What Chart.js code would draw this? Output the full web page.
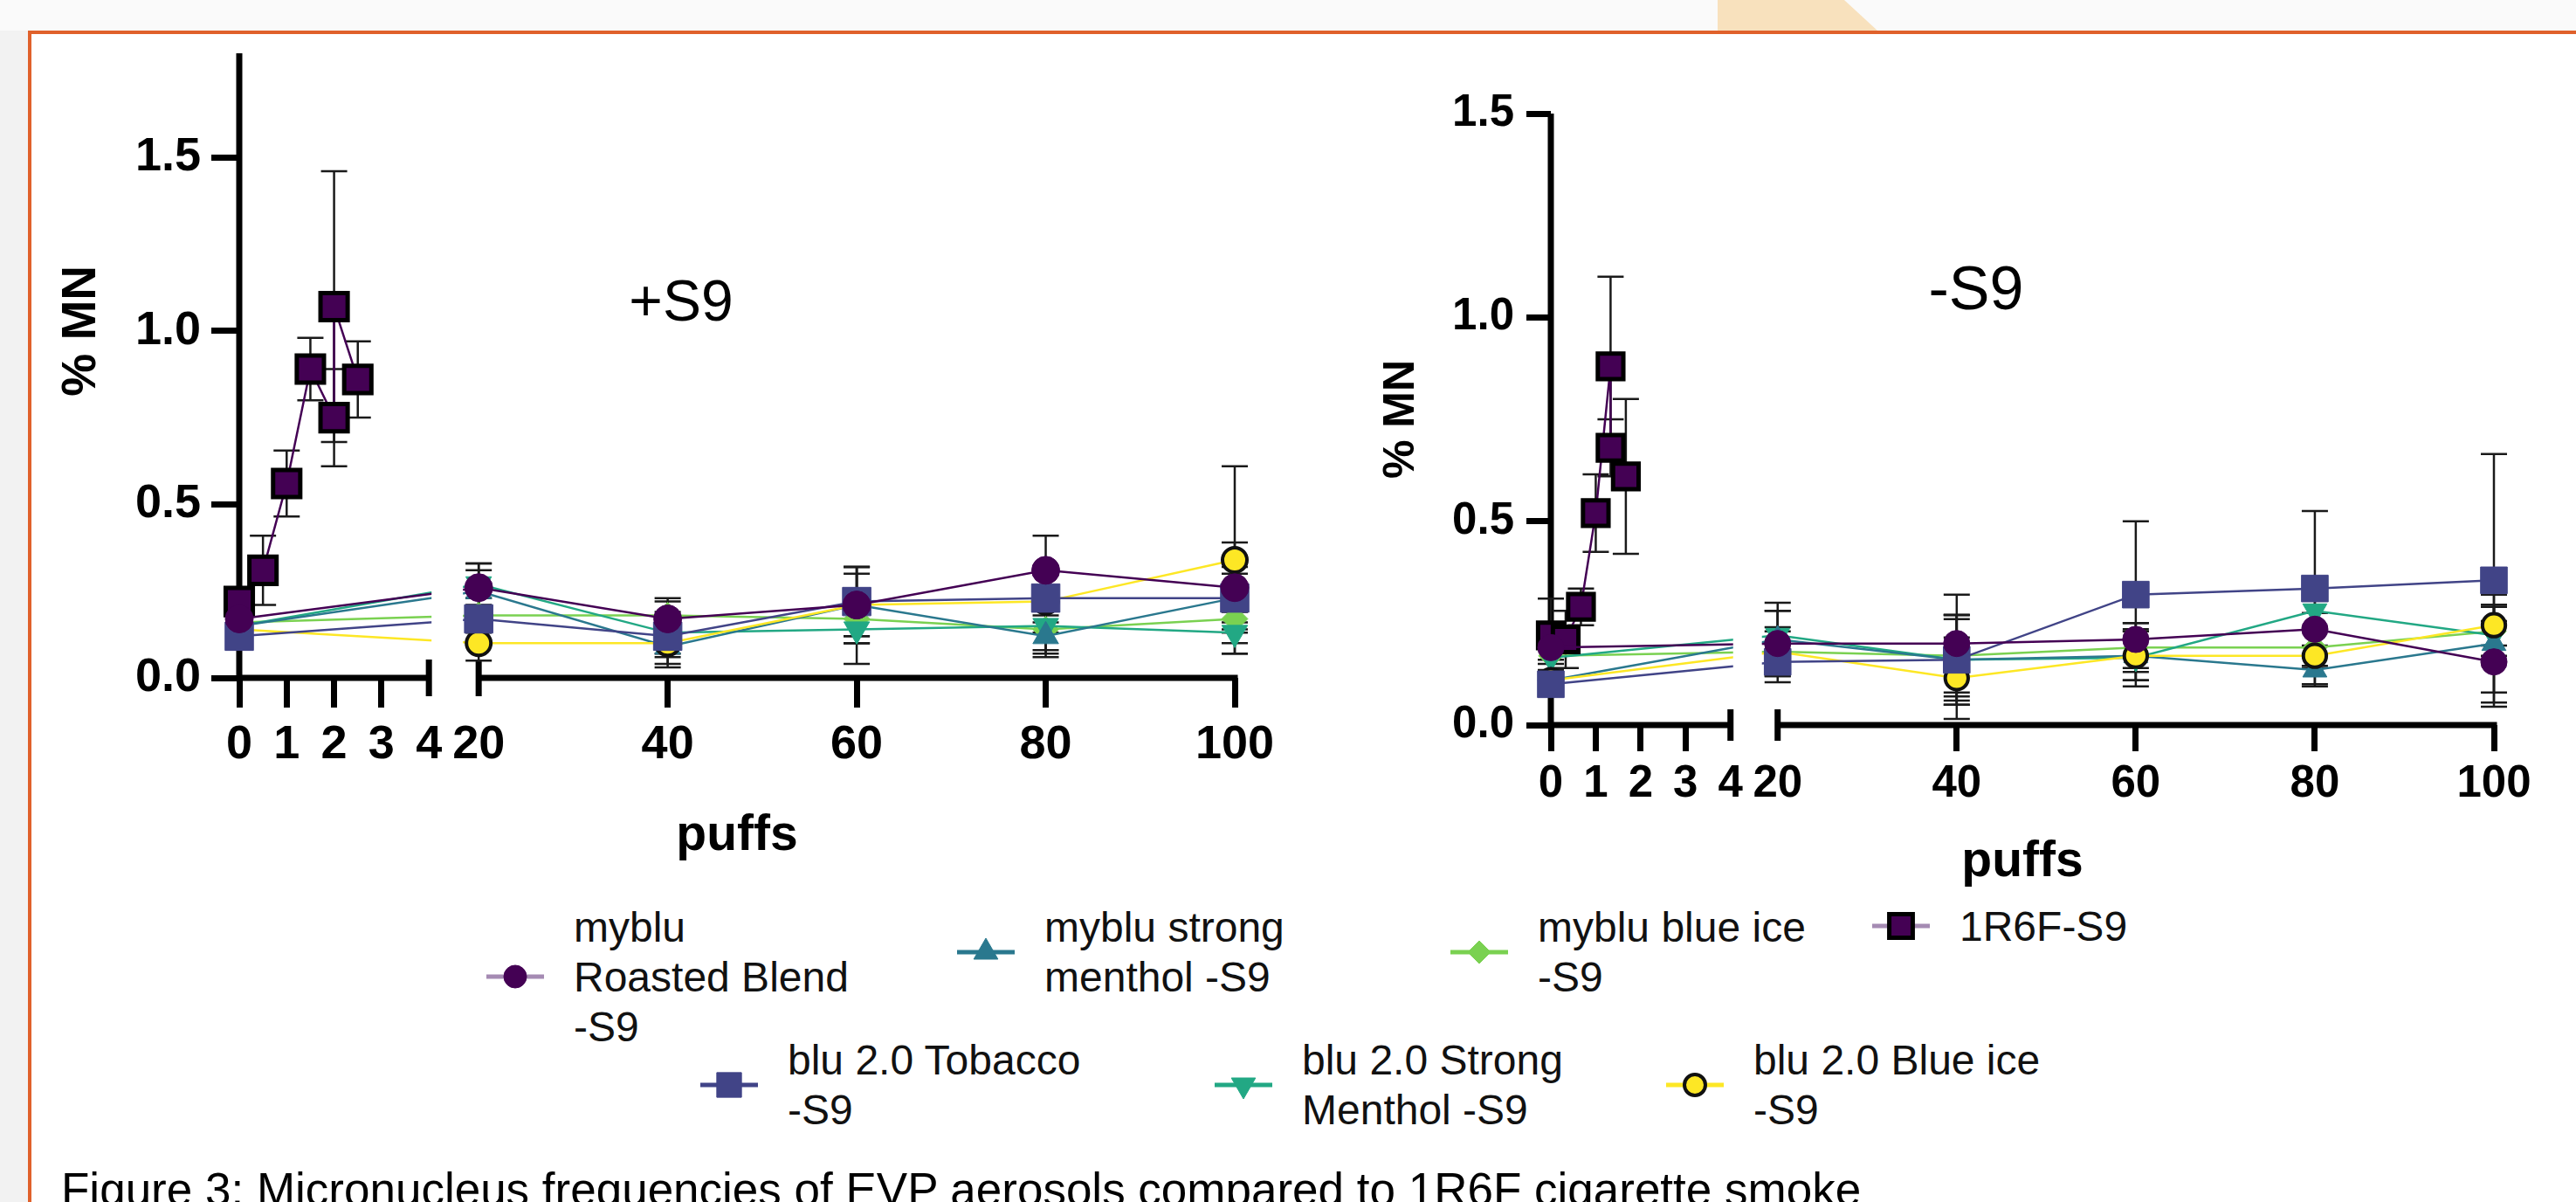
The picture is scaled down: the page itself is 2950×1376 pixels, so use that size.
<!DOCTYPE html>
<html>
<head>
<meta charset="utf-8">
<title>Micronucleus frequencies of EVP aerosols</title>
<script src="https://cdn.jsdelivr.net/npm/chart.js"></script>
<style>
  html, body { margin: 0; padding: 0; }
  body { width: 2950px; height: 1376px; overflow: hidden; position: relative; background: #f2f2f2;
         font-family: 'Liberation Sans', Arial, Helvetica, sans-serif; color: #000; }
  #topband { position: absolute; left: 0; top: 0; width: 2950px; height: 35px; background: #fafafa; }
  #peach { position: absolute; left: 1967px; top: 0; width: 183px; height: 35px; background: #f8e1bd;
           clip-path: polygon(0 0, 145px 0, 183px 100%, 0 100%); }
  #sheet { position: absolute; left: 32px; top: 35px; width: 2960px; height: 1400px; background: #fff;
           border-left: 4px solid #e0612b; border-top: 4px solid #e0612b; }
  canvas { position: absolute; }
  .tag { position: absolute; transform: translate(-50%, -50%); line-height: 1; white-space: nowrap; }
  .legend-text { position: absolute; font-size: 48px; line-height: 57px; color: #111; white-space: nowrap; }
  #caption { position: absolute; left: 70px; top: 1335px; font-size: 53px; line-height: 53px; white-space: nowrap; color: #000; }
</style>
</head>
<body>
<div id="topband"></div>
<div id="peach"></div>
<div id="sheet"></div>
<canvas id="plusChart" width="1500" height="991" style="left:0;top:0"></canvas>
<canvas id="minusChart" width="1420" height="1021" style="left:1520px;top:0"></canvas>
<div class="tag" style="left:780px;top:344px;font-size:66px">+S9</div>
<div class="tag" style="left:2263px;top:330px;font-size:70px">-S9</div>
<div id="legend"></div>
<div id="caption">Figure 3: Micronucleus frequencies of EVP aerosols compared to 1R6F cigarette smoke</div>
<script>
// x positions (puffs) and ticks
const puffTicks = [0, 1, 2, 3, 4, 20, 40, 60, 80, 100];
const evpPuffs = [0, 20, 40, 60, 80, 100];
const cigPuffsPlus = [0, 0.5, 1, 1.5, 2, 2, 2.5];
const cigPuffsMinus = [0, 0.33, 0.67, 1, 1.33, 1.33, 1.67];
const mnTicks = [0, 0.5, 1.0, 1.5];

const seriesLabels = [
    ['myblu', 'Roasted Blend', '-S9'],
    ['myblu strong', 'menthol -S9'],
    ['myblu blue ice', '-S9'],
    ['1R6F-S9'],
    ['blu 2.0 Tobacco', '-S9'],
    ['blu 2.0 Strong', 'Menthol -S9'],
    ['blu 2.0 Blue ice', '-S9']
];

// +S9 panel, % MN mean and SD
const plusRoasted = [0.17, 0.26, 0.17, 0.21, 0.31, 0.26];
const plusRoastedSd = [0.03, 0.07, 0.05, 0.11, 0.10, 0.13];
const plusStrong = [0.15, 0.25, 0.09, 0.21, 0.12, 0.23];
const plusStrongSd = [0.02, 0.06, 0.06, 0.09, 0.06, 0.07];
const plusIce = [0.16, 0.18, 0.18, 0.17, 0.14, 0.17];
const plusIceSd = [0.02, 0.05, 0.05, 0.07, 0.06, 0.07];
const plusCig = [0.22, 0.31, 0.56, 0.89, 0.75, 1.07, 0.86];
const plusCigSd = [0.03, 0.10, 0.095, 0.09, 0.14, 0.39, 0.11];
const plusTobacco = [0.12, 0.17, 0.12, 0.22, 0.23, 0.23];
const plusTobaccoSd = [0.03, 0.06, 0.06, 0.10, 0.07, 0.09];
const plusStrong2 = [0.15, 0.27, 0.13, 0.14, 0.15, 0.13];
const plusStrong2Sd = [0.02, 0.06, 0.06, 0.10, 0.08, 0.06];
const plusIce2 = [0.14, 0.10, 0.10, 0.21, 0.22, 0.34];
const plusIce2Sd = [0.02, 0.05, 0.06, 0.11, 0.09, 0.27];

// -S9 panel
const minusRoasted = [0.19, 0.20, 0.20, 0.21, 0.235, 0.155];
const minusRoastedSd = [0.03, 0.08, 0.12, 0.04, 0.04, 0.10];
const minusStrong = [0.11, 0.21, 0.16, 0.17, 0.135, 0.20];
const minusStrongSd = [0.02, 0.07, 0.11, 0.06, 0.04, 0.12];
const minusIce = [0.17, 0.18, 0.17, 0.19, 0.19, 0.23];
const minusIceSd = [0.02, 0.05, 0.10, 0.06, 0.05, 0.06];
const minusCig = [0.22, 0.21, 0.29, 0.52, 0.88, 0.68, 0.61];
const minusCigSd = [0.09, 0.07, 0.045, 0.095, 0.22, 0.07, 0.19];
const minusTobacco = [0.10, 0.155, 0.16, 0.32, 0.335, 0.355];
const minusTobaccoSd = [0.02, 0.05, 0.11, 0.18, 0.19, 0.31];
const minusStrong2 = [0.165, 0.22, 0.16, 0.165, 0.28, 0.22];
const minusStrong2Sd = [0.03, 0.08, 0.10, 0.07, 0.04, 0.07];
const minusIce2 = [0.11, 0.18, 0.115, 0.17, 0.17, 0.245];
const minusIce2Sd = [0.02, 0.06, 0.10, 0.06, 0.07, 0.05];

const FONT = "'Liberation Sans', Arial, Helvetica, sans-serif";
const BREAK_LO = 4;
const BREAK_HI = 20;
const SEG_A_SHARE = 0.1905;   // share of axis width used by 0..4
const GAP_SHARE = 0.05;       // blank gap between 4 and 20
const AXIS_W = 7;

// marker / line look of each series, same order as seriesLabels
const seriesStyles = [
    { color: '#440154', legendLine: '#a58bb3', pointStyle: 'circle', radius: 16, legendRadius: 13, rotation: 0, border: '#440154', borderWidth: 1, order: 0 },
    { color: '#2a788e', legendLine: '#2a788e', pointStyle: 'triangle', radius: 17, legendRadius: 16, rotation: 0, border: '#2a788e', borderWidth: 1, order: 4 },
    { color: '#7ad151', legendLine: '#7ad151', pointStyle: 'rectRot', radius: 15, legendRadius: 13, rotation: 0, border: '#7ad151', borderWidth: 1, order: 6 },
    { color: '#440154', legendLine: '#a58bb3', pointStyle: 'rect', radius: 22, legendRadius: 19, rotation: 0, border: '#000000', borderWidth: 5, order: 2 },
    { color: '#414487', legendLine: '#414487', pointStyle: 'rect', radius: 23, legendRadius: 20, rotation: 0, border: '#414487', borderWidth: 1, order: 1 },
    { color: '#22a884', legendLine: '#22a884', pointStyle: 'triangle', radius: 17, legendRadius: 16, rotation: 180, border: '#22a884', borderWidth: 1, order: 5 },
    { color: '#fde725', legendLine: '#fde725', pointStyle: 'circle', radius: 14, legendRadius: 12, rotation: 0, border: '#111111', borderWidth: 4, order: 3 }
];

// linear scale with a gap between 4 and 20 puffs
class BrokenLinearScale extends Chart.LinearScale {
    static id = 'brokenLinear';
    _segments() {
        const wA = this.width * SEG_A_SHARE;
        const wG = this.width * GAP_SHARE;
        return { a0: this.left, a1: this.left + wA, b0: this.left + wA + wG, b1: this.left + this.width };
    }
    getPixelForValue(value) {
        if (value === null || value === undefined || isNaN(value)) return NaN;
        const s = this._segments();
        if (value <= BREAK_LO) return s.a0 + (value - this.min) / (BREAK_LO - this.min) * (s.a1 - s.a0);
        if (value >= BREAK_HI) return s.b0 + (value - BREAK_HI) / (this.max - BREAK_HI) * (s.b1 - s.b0);
        return s.a1 + (value - BREAK_LO) / (BREAK_HI - BREAK_LO) * (s.b0 - s.a1);
    }
    getValueForPixel(pixel) {
        const s = this._segments();
        if (pixel <= s.a1) return this.min + (pixel - s.a0) / (s.a1 - s.a0) * (BREAK_LO - this.min);
        if (pixel >= s.b0) return BREAK_HI + (pixel - s.b0) / (s.b1 - s.b0) * (this.max - BREAK_HI);
        return BREAK_LO + (pixel - s.a1) / (s.b0 - s.a1) * (BREAK_HI - BREAK_LO);
    }
}
Chart.register(BrokenLinearScale);

// axis lines, break marks, y title, gap clipping and error bars
const panelDecor = {
    id: 'panelDecor',
    beforeDatasetsDraw(chart, args, opts) {
        const { ctx, chartArea } = chart;
        const xs = chart.scales.x, ys = chart.scales.y;
        const x0 = xs.getPixelForValue(0);
        const x4 = xs.getPixelForValue(BREAK_LO);
        const x20 = xs.getPixelForValue(BREAK_HI);
        const xEnd = xs.getPixelForValue(xs.max);
        const yBase = ys.getPixelForValue(0);

        ctx.save();
        ctx.strokeStyle = '#000';
        ctx.lineWidth = AXIS_W;
        ctx.lineCap = 'butt';
        ctx.beginPath();
        ctx.moveTo(x0, chartArea.top);
        ctx.lineTo(x0, yBase + AXIS_W / 2);
        ctx.moveTo(x0 - AXIS_W / 2, yBase);
        ctx.lineTo(x4 + AXIS_W / 2, yBase);
        ctx.moveTo(x20 - AXIS_W / 2, yBase);
        ctx.lineTo(xEnd + AXIS_W / 2, yBase);
        ctx.moveTo(x4, yBase - opts.breakCap);
        ctx.lineTo(x4, yBase + opts.breakCap);
        ctx.moveTo(x20, yBase - opts.breakCap);
        ctx.lineTo(x20, yBase + opts.breakCap);
        ctx.stroke();

        ctx.translate(opts.titleX, ys.getPixelForValue(opts.titleAt));
        ctx.rotate(-Math.PI / 2);
        ctx.font = `bold ${opts.titleSize}px ${FONT}`;
        ctx.fillStyle = '#000';
        ctx.textAlign = 'center';
        ctx.textBaseline = 'middle';
        ctx.fillText('% MN', 0, 0);
        ctx.restore();

        // hide the line pieces that cross the axis gap
        ctx.save();
        ctx.beginPath();
        ctx.rect(0, 0, x4 + 3, chart.height);
        ctx.rect(x20 - opts.gapMargin, 0, chart.width, chart.height);
        ctx.clip();

        ctx.strokeStyle = '#1a1a1a';
        ctx.lineWidth = 2.5;
        chart.data.datasets.forEach((ds, di) => {
            const meta = chart.getDatasetMeta(di);
            meta.data.forEach((pt, i) => {
                const mean = ds.data[i].y, sd = ds.errors[i];
                const yTop = ys.getPixelForValue(mean + sd);
                const yBot = ys.getPixelForValue(Math.max(mean - sd, 0));
                ctx.beginPath();
                ctx.moveTo(pt.x, yTop);
                ctx.lineTo(pt.x, yBot);
                ctx.moveTo(pt.x - opts.capHalf, yTop);
                ctx.lineTo(pt.x + opts.capHalf, yTop);
                ctx.moveTo(pt.x - opts.capHalf, yBot);
                ctx.lineTo(pt.x + opts.capHalf, yBot);
                ctx.stroke();
            });
        });
    },
    afterDatasetsDraw(chart) {
        chart.ctx.restore();
    }
};

function toPoints(xs, ys) {
    return xs.map((x, i) => ({ x: x, y: ys[i] }));
}

function makeDatasets(groups, markerScale) {
    return groups.map((g, i) => {
        const st = seriesStyles[i];
        return {
            label: seriesLabels[i].join(' '),
            data: toPoints(g[0], g[1]),
            errors: g[2],
            order: st.order,
            borderColor: st.color,
            borderWidth: 2.5,
            backgroundColor: st.color,
            pointBackgroundColor: st.color,
            pointBorderColor: st.border,
            pointBorderWidth: st.borderWidth,
            pointStyle: st.pointStyle,
            pointRotation: st.rotation,
            pointRadius: st.radius * markerScale,
            tension: 0,
            clip: false
        };
    });
}

function buildPanel(canvasId, groups, cfg) {
    const tickFont = { family: FONT, size: cfg.tickSize, weight: 'bold' };
    return new Chart(document.getElementById(canvasId), {
        type: 'line',
        data: { datasets: makeDatasets(groups, cfg.markerScale) },
        options: {
            responsive: false,
            animation: false,
            devicePixelRatio: 1,
            layout: { padding: cfg.padding },
            events: [],
            plugins: {
                legend: { display: false },
                tooltip: { enabled: false },
                panelDecor: {
                    breakCap: cfg.breakCap,
                    gapMargin: 18,
                    capHalf: 15,
                    titleX: cfg.titleX,
                    titleAt: cfg.titleAt,
                    titleSize: cfg.titleSize
                }
            },
            scales: {
                x: {
                    type: 'brokenLinear',
                    min: 0,
                    max: 100,
                    afterBuildTicks: s => { s.ticks = puffTicks.map(v => ({ value: v })); },
                    afterFit: s => { s.height = cfg.xHeight; },
                    border: { display: false },
                    grid: {
                        drawOnChartArea: false,
                        drawTicks: true,
                        tickLength: cfg.xTickLen,
                        tickWidth: AXIS_W,
                        tickColor: c => (c.tick && (c.tick.value === BREAK_LO || c.tick.value === BREAK_HI)) ? 'rgba(0,0,0,0)' : '#000'
                    },
                    ticks: {
                        autoSkip: false,
                        maxRotation: 0,
                        minRotation: 0,
                        padding: cfg.xPad,
                        color: '#000',
                        font: tickFont,
                        callback: v => String(v)
                    },
                    title: {
                        display: true,
                        text: 'puffs',
                        color: '#000',
                        padding: 0,
                        font: { family: FONT, size: 57, weight: 'bold' }
                    }
                },
                y: {
                    type: 'linear',
                    min: 0,
                    max: cfg.yMax,
                    afterBuildTicks: s => { s.ticks = mnTicks.map(v => ({ value: v })); },
                    afterFit: s => { s.width = cfg.yWidth; },
                    border: { display: false },
                    grid: {
                        drawOnChartArea: false,
                        drawTicks: true,
                        tickLength: cfg.yTickLen,
                        tickWidth: AXIS_W,
                        tickColor: '#000'
                    },
                    ticks: {
                        padding: cfg.yPad,
                        color: '#000',
                        font: tickFont,
                        callback: v => Number(v).toFixed(1)
                    }
                }
            }
        },
        plugins: [panelDecor]
    });
}

buildPanel('plusChart', [
    [evpPuffs, plusRoasted, plusRoastedSd],
    [evpPuffs, plusStrong, plusStrongSd],
    [evpPuffs, plusIce, plusIceSd],
    [cigPuffsPlus, plusCig, plusCigSd],
    [evpPuffs, plusTobacco, plusTobaccoSd],
    [evpPuffs, plusStrong2, plusStrong2Sd],
    [evpPuffs, plusIce2, plusIce2Sd]
], {
    padding: { left: 0, top: 61, right: 86, bottom: 0 },
    yWidth: 274, xHeight: 215, yMax: 1.8,
    tickSize: 54, xTickLen: 34, yTickLen: 32, xPad: 11, yPad: 12,
    breakCap: 21, markerScale: 1,
    titleX: 94, titleAt: 1.0, titleSize: 55
});

buildPanel('minusChart', [
    [evpPuffs, minusRoasted, minusRoastedSd],
    [evpPuffs, minusStrong, minusStrongSd],
    [evpPuffs, minusIce, minusIceSd],
    [cigPuffsMinus, minusCig, minusCigSd],
    [evpPuffs, minusTobacco, minusTobaccoSd],
    [evpPuffs, minusStrong2, minusStrong2Sd],
    [evpPuffs, minusIce2, minusIce2Sd]
], {
    padding: { left: 0, top: 130, right: 84, bottom: 0 },
    yWidth: 256, xHeight: 191, yMax: 1.5,
    tickSize: 51, xTickLen: 30, yTickLen: 28, xPad: 7, yPad: 14,
    breakCap: 18, markerScale: 0.94,
    titleX: 85, titleAt: 0.75, titleSize: 50
});

// shared legend below both panels (marker centre of each entry)
const legendSpots = [[590, 1118], [1129, 1090], [1694, 1090], [2177, 1060], [835, 1242], [1424, 1242], [1941, 1242]];
const legendBox = document.getElementById('legend');
seriesStyles.forEach((st, i) => {
    const [mx, my] = legendSpots[i];
    const cv = document.createElement('canvas');
    cv.width = 80; cv.height = 60;
    cv.style.left = (mx - 40) + 'px';
    cv.style.top = (my - 30) + 'px';
    legendBox.appendChild(cv);
    const c = cv.getContext('2d');
    c.strokeStyle = st.legendLine;
    c.lineWidth = 5;
    c.beginPath();
    c.moveTo(7, 30);
    c.lineTo(73, 30);
    c.stroke();
    c.fillStyle = st.color;
    c.strokeStyle = st.border;
    c.lineWidth = st.borderWidth;
    Chart.helpers.drawPoint(c, { pointStyle: st.pointStyle, rotation: st.rotation, radius: st.legendRadius, borderWidth: st.borderWidth }, 40, 30);

    const tx = document.createElement('div');
    tx.className = 'legend-text';
    tx.style.left = (mx + 67) + 'px';
    tx.style.top = (my - seriesLabels[i].length * 28.5) + 'px';
    tx.innerHTML = seriesLabels[i].join('<br>');
    legendBox.appendChild(tx);
});
</script>
</body>
</html>
